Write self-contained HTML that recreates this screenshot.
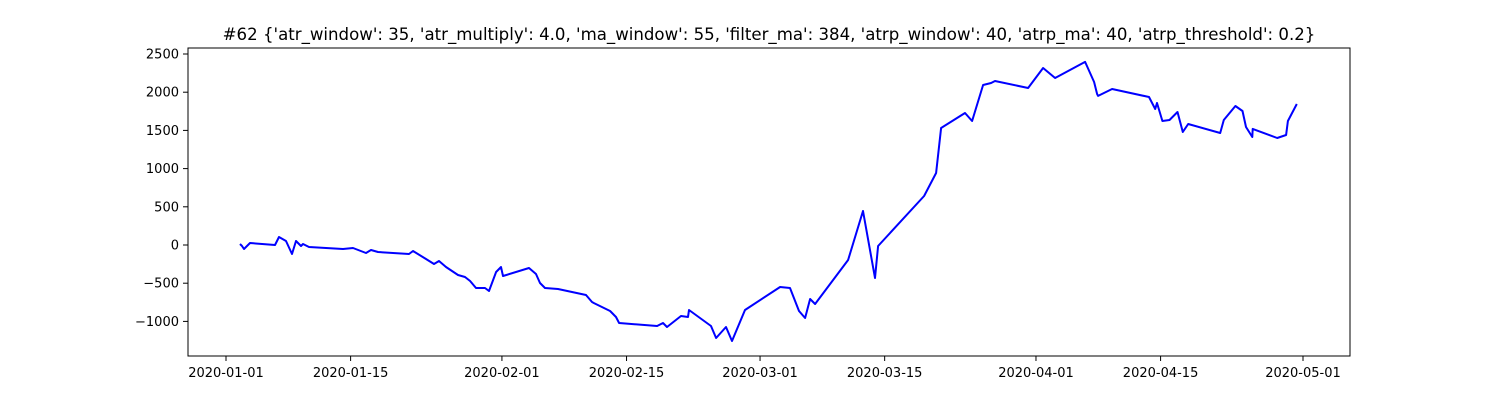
<!DOCTYPE html>
<html><head><meta charset="utf-8"><style>
html,body{margin:0;padding:0;background:#fff;}
svg{display:block;font-family:"DejaVu Sans","Liberation Sans",sans-serif;}
</style></head><body>
<svg id="chart" width="1500" height="400">
<text x="769" y="40" text-anchor="middle" font-size="16.6">#62 {'atr_window': 35, 'atr_multiply': 4.0, 'ma_window': 55, 'filter_ma': 384, 'atrp_window': 40, 'atrp_ma': 40, 'atrp_threshold': 0.2}</text>
<rect x="188" y="48" width="1162" height="308" fill="none" stroke="#000" stroke-width="1"/>
<g id="axes"></g>
<polyline id="line" fill="none" stroke="#0000ff" stroke-width="2" stroke-linejoin="round"/>
</svg>
<script>
const days = [1.57,1.8,2.02,2.7,5.5,5.96,6.74,7.42,7.87,8.43,8.65,9.33,13.15,14.27,15.73,16.29,17.08,20.56,21.01,22.47,23.37,23.93,24.72,26.07,26.85,27.42,28.09,29.1,29.55,30.34,30.9,31.12,34.04,34.83,35.28,35.84,37.3,40.45,41.12,41.35,43.15,43.82,44.16,48.43,49.1,49.55,51.12,51.91,52.02,54.49,55.06,56.18,56.85,58.31,62.25,63.37,64.38,65.06,65.62,66.18,69.89,71.57,72.92,73.26,78.43,79.78,80.34,83.03,83.82,85.06,85.96,86.4,90.11,91.8,93.15,96.52,97.53,97.87,97.98,99.55,103.7,104.4,104.6,105.2,106,106.9,107.5,108.1,111.7,112.1,113.4,114.2,114.6,115.3,115.35,118.1,119.1,119.3,120.3];
const values = [13,-13,-52,26,0,105,52,-118,52,-13,13,-26,-52,-39,-105,-65,-92,-118,-79,-183,-249,-209,-288,-393,-419,-471,-563,-563,-602,-353,-288,-406,-301,-380,-497,-563,-576,-655,-746,-760,-864,-942,-1021,-1060,-1021,-1073,-929,-942,-851,-1060,-1217,-1073,-1257,-851,-550,-563,-864,-955,-707,-772,-196,445,-432,-13,641,942,1532,1728,1623,2094,2120,2146,2055,2317,2186,2396,2133,1977,1951,2042,1937,1780,1858,1623,1636,1741,1479,1584,1466,1636,1819,1754,1545,1414,1519,1401,1440,1623,1846];
const xTickDays = [0,14,31,45,60,74,91,105,121];
const xTickLabels = ["2020-01-01","2020-01-15","2020-02-01","2020-02-15","2020-03-01","2020-03-15","2020-04-01","2020-04-15","2020-05-01"];
const yTicks = [-1000,-500,0,500,1000,1500,2000,2500];

const xs = d => 226 + d * (1303 - 226) / 121;
const ys = v => 245 - v * 38.2 / 500;
const NS = "http://www.w3.org/2000/svg";
const axes = document.getElementById("axes");
function mk(tag, attrs, txt){
  const e = document.createElementNS(NS, tag);
  for (const k in attrs) e.setAttribute(k, attrs[k]);
  if (txt !== undefined) e.textContent = txt;
  axes.appendChild(e);
  return e;
}
xTickDays.forEach((d, i) => {
  const x = xs(d);
  const t = mk("line", {x1:x, x2:x, y1:356, y2:361, stroke:"#000"});
  
  
  const l = mk("text", {x:x, y:377, "text-anchor":"middle", "font-size":"13"}, xTickLabels[i]);
  
  
});
yTicks.forEach(v => {
  const y = ys(v);
  const t = mk("line", {x1:183, x2:188, y1:y, y2:y, stroke:"#000"});
  
  
  const l = mk("text", {x:179, y:y+4.5, "text-anchor":"end", "font-size":"13"}, v < 0 ? "\u2212" + Math.abs(v) : String(v));
  
  
});
document.getElementById("line").setAttribute("points", days.map((d, i) => xs(d).toFixed(1) + "," + ys(values[i]).toFixed(1)).join(" "));
</script>
</body></html>
